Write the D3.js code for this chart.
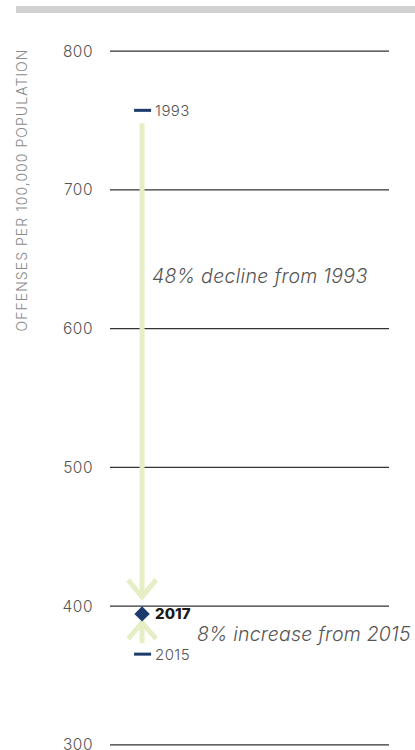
<!DOCTYPE html>
<html><head><meta charset="utf-8">
<script src="https://cdn.jsdelivr.net/npm/d3@7/dist/d3.min.js"></script>
<style>
html,body{margin:0;padding:0;background:#fff;}
svg{display:block;}
</style></head>
<body>
<svg id="chart" width="415" height="750"></svg>
<script>
// ---- data ----
const yTicks = [300, 400, 500, 600, 700, 800];
const years = ["1993", "2015", "2017"];
const rates = [757, 365, 394];
const axisTitle = "OFFENSES PER 100,000 POPULATION";
const notes = ["48% decline from 1993", "8% increase from 2015"];

const svg = d3.select("#chart");
const font = "Inter, 'Open Sans', sans-serif";
const navy = "#1d3a6c", green = "#e6eec6", txt = "#555";

// top grey band
svg.append("rect").attr("x", 16).attr("y", 6).attr("width", 399).attr("height", 7).attr("fill", "#d1d1d1");

const y = d3.scaleLinear().domain([300, 800]).range([744.3, 50.7]);
const x = d3.scaleLinear().domain([0, 1]).range([110, 389]);
const mx = x(0.115);

// gridlines + tick labels via axis
const axis = d3.axisLeft(y).tickValues(yTicks).tickSize(-(x(1) - x(0))).tickPadding(17).tickFormat(d3.format("d"));
const g = svg.append("g").attr("transform", `translate(${x(0)},0)`).call(axis);
g.select(".domain").remove();
g.selectAll(".tick line").attr("stroke", "#333").attr("stroke-width", 1.2);
g.selectAll(".tick text").attr("fill", txt).attr("font-family", font).attr("font-weight", 300)
  .attr("font-size", 15.5).attr("letter-spacing", 0.5).attr("dy", "0.35em");

// axis title
svg.append("text").attr("transform", `translate(27,${(45 + 335) / 2}) rotate(-90)`)
  .attr("text-anchor", "middle").attr("font-family", font).attr("font-weight", 300)
  .attr("font-size", 14).attr("letter-spacing", 1.05).attr("fill", "#8a8a8a").text(axisTitle);

const v1993 = rates[0], v2015 = rates[1], v2017 = rates[2];

// down arrow (1993 -> 2017)
const arrows = svg.append("g").attr("stroke", green).attr("stroke-width", 5).attr("fill", "none");
const tipDown = y(v2017) - 17;
arrows.append("line").attr("x1", mx).attr("x2", mx).attr("y1", y(v1993) + 13).attr("y2", tipDown - 2);
arrows.append("path").attr("d", `M${mx - 14},${tipDown - 17}L${mx},${tipDown}L${mx + 14},${tipDown - 17}`);
// up arrow (2015 -> 2017)
const tipUp = y(v2017) + 9;
arrows.append("line").attr("x1", mx).attr("x2", mx).attr("y1", y(v2015) - 11).attr("y2", tipUp + 2);
arrows.append("path").attr("d", `M${mx - 14},${tipUp + 16}L${mx},${tipUp}L${mx + 14},${tipUp + 16}`);

// markers
[0, 1].forEach(i => {
  svg.append("rect").attr("x", mx - 8).attr("y", y(rates[i]) - 1.5).attr("width", 17).attr("height", 3).attr("fill", navy);
});
svg.append("path").attr("d", d3.symbol().type(d3.symbolDiamond2).size(150)())
  .attr("transform", `translate(${mx},${y(v2017)})`).attr("fill", navy);

// year labels
[0, 1, 2].forEach(i => {
  svg.append("text").attr("x", mx + 13).attr("y", y(rates[i])).attr("dy", "0.36em")
    .attr("font-family", font).attr("font-size", 15).attr("letter-spacing", i === 2 ? 0 : 0.4)
    .attr("font-weight", i === 2 ? 800 : 300).attr("fill", i === 2 ? "#1a1a1a" : txt).text(years[i]);
});

// annotations
svg.append("text").attr("x", 152).attr("y", y(v1993) + 173).attr("font-family", font)
  .attr("font-style", "italic").attr("font-weight", 300).attr("font-size", 19.5).attr("letter-spacing", 0.3)
  .attr("fill", txt).text(notes[0]);
svg.append("text").attr("x", 197).attr("y", y(v2017) + 27).attr("font-family", font)
  .attr("font-style", "italic").attr("font-weight", 300).attr("font-size", 19.5).attr("letter-spacing", 0.2)
  .attr("fill", txt).text(notes[1]);
</script>
</body></html>
